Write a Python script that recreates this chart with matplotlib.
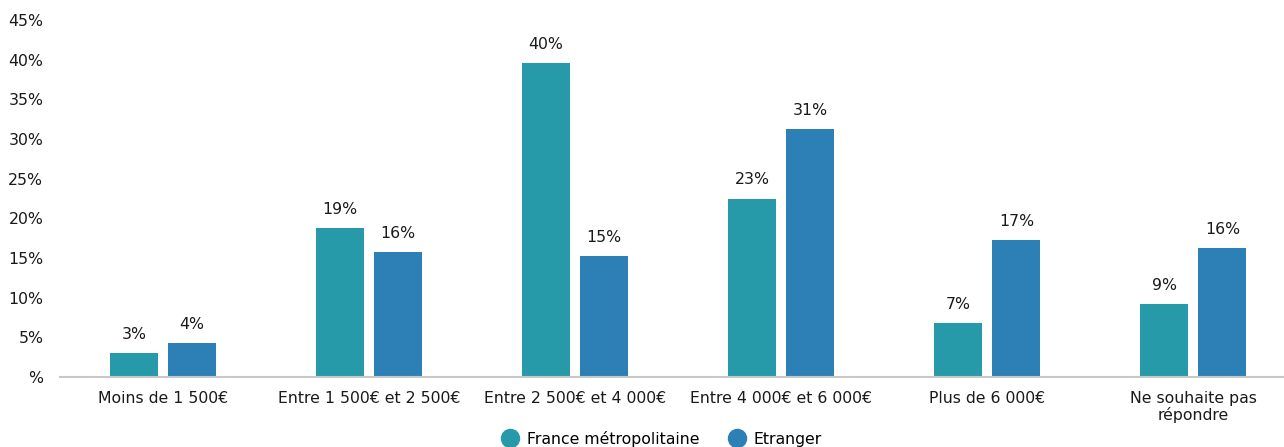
import numpy as np
import matplotlib.pyplot as plt
from matplotlib.lines import Line2D

plt.rcParams['font.family'] = ['DejaVu Sans']

categories = ["Moins de 1 500€", "Entre 1 500€ et 2 500€", "Entre 2 500€ et 4 000€",
              "Entre 4 000€ et 6 000€", "Plus de 6 000€", "Ne souhaite pas\nrépondre"]
france = [3.0, 18.8, 39.6, 22.5, 6.8, 9.2]
etranger = [4.3, 15.7, 15.3, 31.3, 17.3, 16.3]
france_labels = ["3%", "19%", "40%", "23%", "7%", "9%"]
etranger_labels = ["4%", "16%", "15%", "31%", "17%", "16%"]
yticks = [0, 5, 10, 15, 20, 25, 30, 35, 40, 45]
ytick_labels = ["%", "5%", "10%", "15%", "20%", "25%", "30%", "35%", "40%", "45%"]

c_fr = "#279aa9"
c_et = "#2c80b6"
fs = 11.3

fig = plt.figure(figsize=(12.84, 4.47), dpi=100)
ax = fig.add_axes([0.0467, 0.1566, 0.963, 0.7984])

x = np.arange(len(categories))
w = 0.233
off = 0.141
b1 = ax.bar(x - off, france, w, color=c_fr)
b2 = ax.bar(x + off, etranger, w, color=c_et)

for bars, labels in ((b1, france_labels), (b2, etranger_labels)):
    for b, lab in zip(bars, labels):
        ax.annotate(lab, (b.get_x() + b.get_width() / 2, b.get_height()),
                    xytext=(0, 8), textcoords="offset points",
                    ha="center", va="bottom", fontsize=fs, color="#1a1a1a")

ax.set_xlim(-0.5, 5.5)
ax.set_ylim(0, 45)
ax.set_yticks(yticks)
ax.set_yticklabels(ytick_labels, fontsize=fs, color="#1a1a1a")
ax.set_xticks(x)
ax.set_xticklabels(categories, fontsize=fs, color="#1a1a1a", linespacing=1.05)
ax.tick_params(axis="both", length=0)
ax.tick_params(axis="x", pad=10)
ax.tick_params(axis="y", pad=12)
for s in ("top", "right", "left"):
    ax.spines[s].set_visible(False)
ax.spines["bottom"].set_color("#c8c8c8")
ax.spines["bottom"].set_linewidth(1.5)

handles = [Line2D([], [], marker="o", linestyle="", markersize=13, color=c_fr),
           Line2D([], [], marker="o", linestyle="", markersize=13, color=c_et)]
fig.legend(handles, ["France métropolitaine", "Etranger"], loc="center",
           bbox_to_anchor=(0.5155, 0.018), ncol=2, frameon=False, fontsize=fs,
           handletextpad=0.55, columnspacing=1.9, handlelength=1.0)

fig.savefig("out.png", dpi=100)
